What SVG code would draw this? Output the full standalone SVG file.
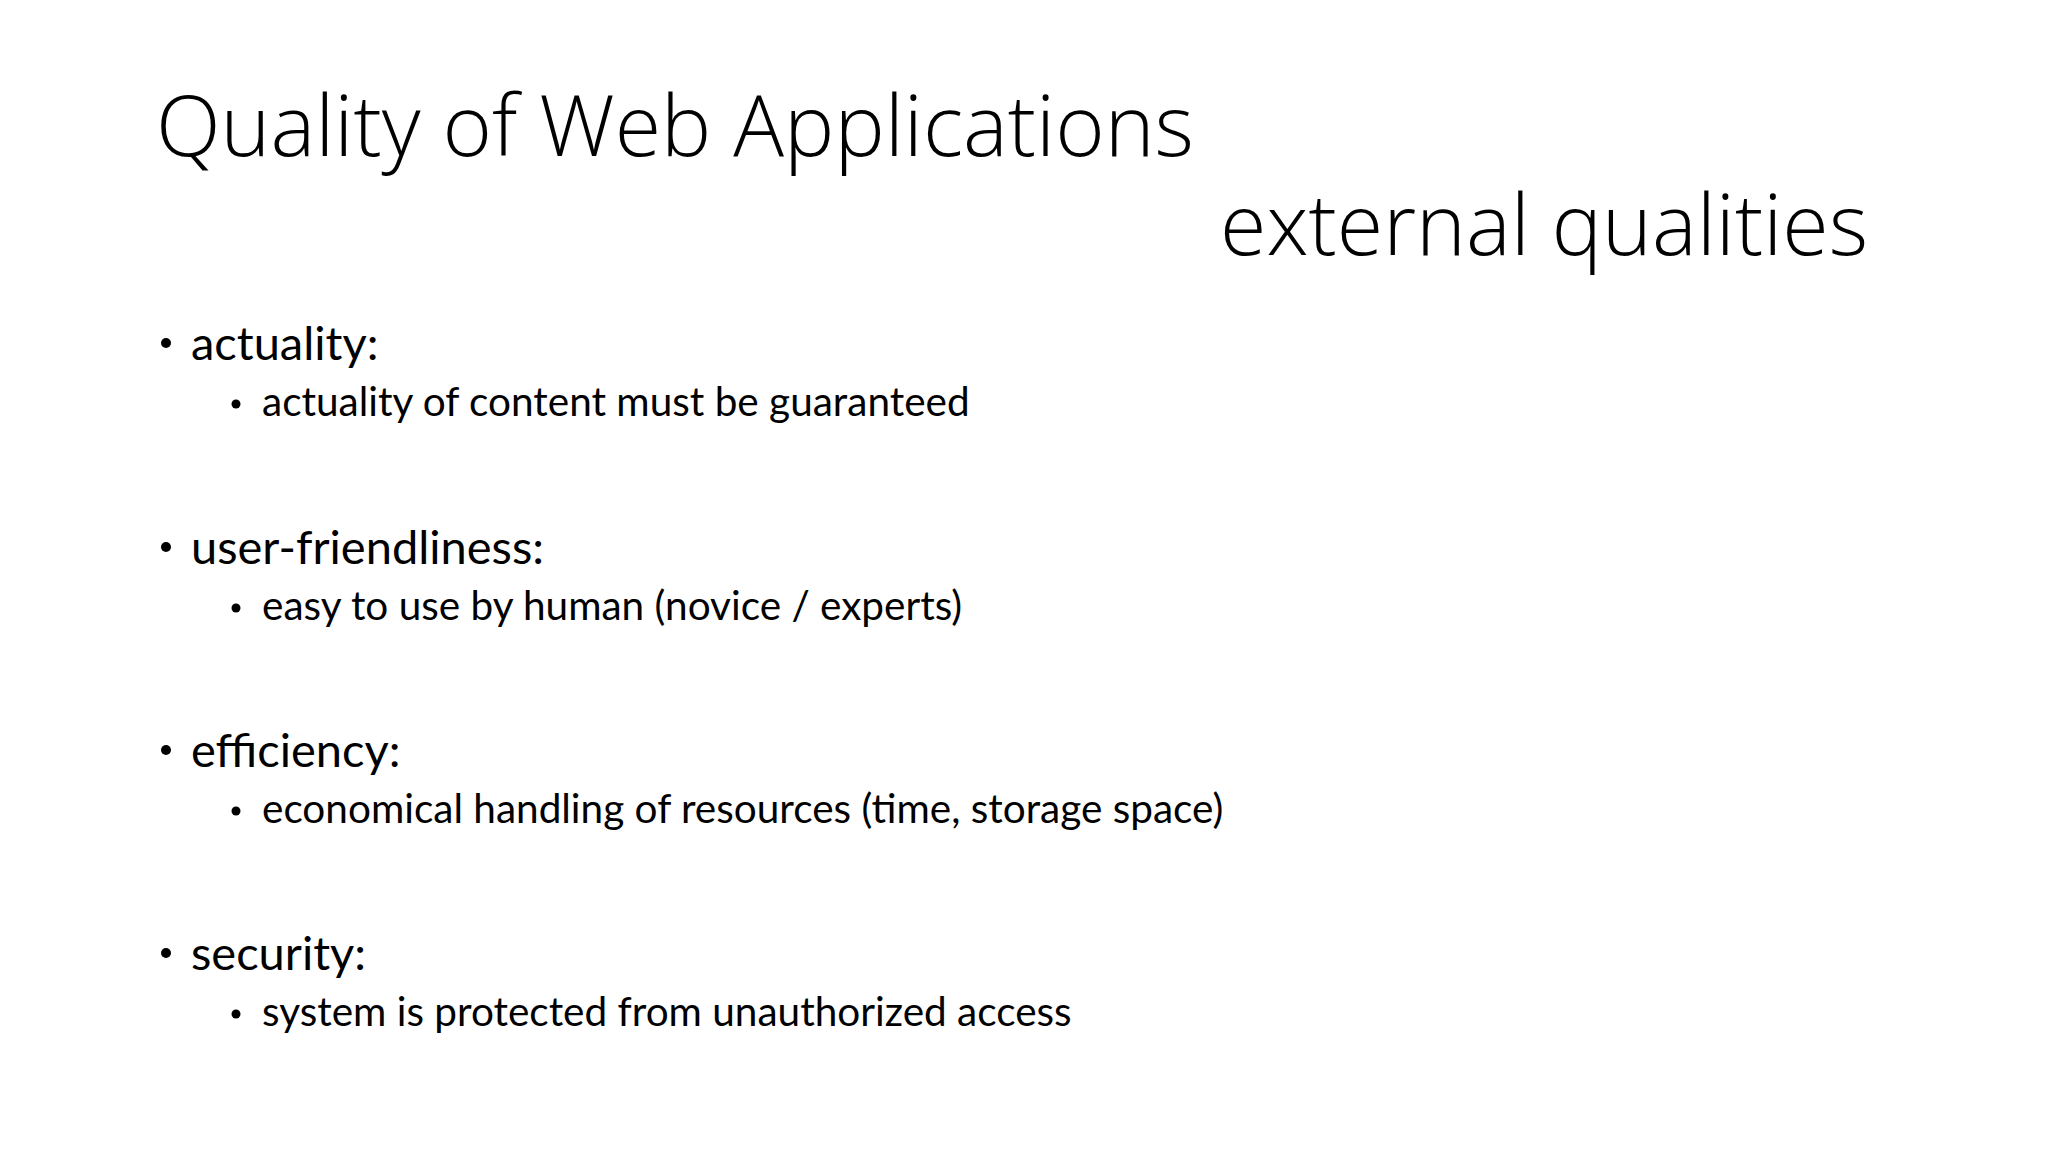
<svg xmlns="http://www.w3.org/2000/svg" width="2048" height="1152" viewBox="0 0 2048 1152">
<style>
.t{font-family:"Open Sans","Liberation Sans",sans-serif;font-weight:300;fill:#000}
.l1{font-family:Lato,"Liberation Sans",sans-serif;font-size:47px;fill:#000}
.l2{font-family:Lato,"Liberation Sans",sans-serif;font-size:40.5px;fill:#000}
</style>
<rect width="2048" height="1152" fill="#fff"/>
<g id="title"><text class="t" x="156" y="156" font-size="84.5">Quality of Web Applications</text></g>
<g id="subtitle"><text class="t" x="1220" y="255" font-size="84.5">external qualities</text></g>
<g id="actuality">
<circle cx="166" cy="343" r="5"/><text class="l1" x="191" y="360">actuality:</text>
<circle cx="236" cy="404" r="4.5"/><text class="l2" x="262" y="416">actuality of content must be guaranteed</text>
</g>
<g id="user">
<circle cx="166" cy="547" r="5"/><text class="l1" x="191" y="564">user-friendliness:</text>
<circle cx="236" cy="608" r="4.5"/><text class="l2" x="262" y="620">easy to use by human (novice / experts)</text>
</g>
<g id="efficiency">
<circle cx="166" cy="750" r="5"/><text class="l1" x="191" y="767">efficiency:</text>
<circle cx="236" cy="811" r="4.5"/><text class="l2" x="262" y="823">economical handling of resources (time, storage space)</text>
</g>
<g id="security">
<circle cx="166" cy="953" r="5"/><text class="l1" x="191" y="970">security:</text>
<circle cx="236" cy="1014" r="4.5"/><text class="l2" x="262" y="1026">system is protected from unauthorized access</text>
</g>
</svg>
